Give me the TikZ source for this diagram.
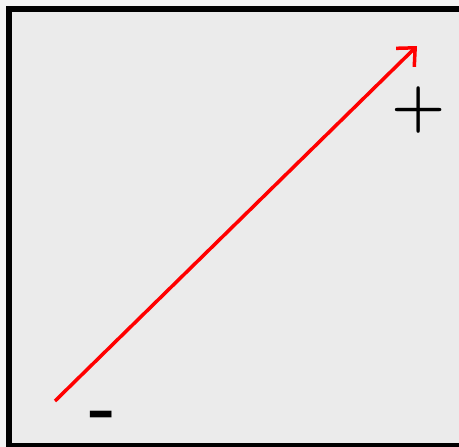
\documentclass[tikz,border=0pt]{standalone}
\usetikzlibrary{arrows.meta}
\definecolor{paper}{HTML}{EBEBEB}
\definecolor{outside}{HTML}{F3F3F3}
\begin{document}
\begin{tikzpicture}[x=1pt,y=-1pt]%
\tikzset{sign/.style={inner sep=0pt,anchor=base}}
\useasboundingbox (0,0) rectangle (459,447);
\fill[outside] (0,0) rectangle (459,447);
\draw[line width=6pt,fill=paper] (9,9) rectangle (462,446.3);
% field line
\coordinate (neg) at (55,401);
\coordinate (pos) at (417,46);
\draw[red,line width=3.5pt,-{Straight Barb[length=14pt,width=26pt,line width=3.5pt]}] (neg) -- (pos);
\node[sign] (plus) at (418.5,125) {\fontsize{62}{62}\selectfont\bfseries +};
\node[sign] (minus) at (103,430) {\fontsize{72}{72}\selectfont\bfseries -};
\end{tikzpicture}
\end{document}
